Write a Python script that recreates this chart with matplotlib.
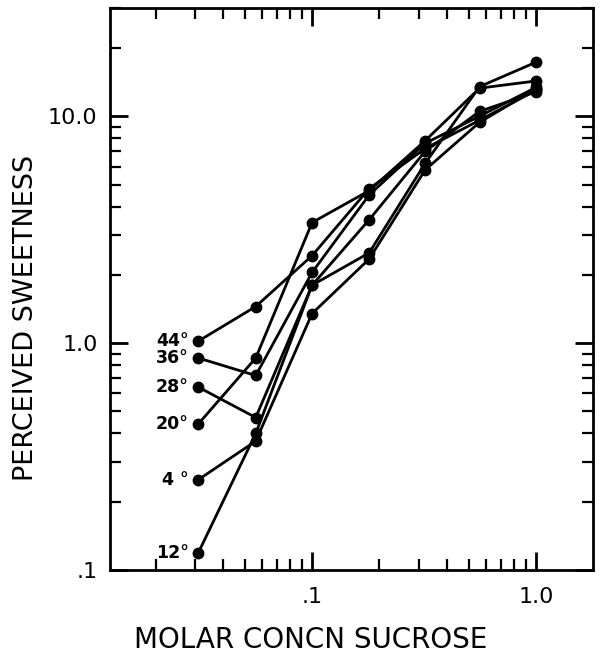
import matplotlib
matplotlib.use("Agg")
import matplotlib.pyplot as plt
from matplotlib.ticker import LogLocator, FixedLocator, FixedFormatter, NullFormatter

# Data (molar concentration of sucrose vs perceived sweetness)
conc = [0.031, 0.056, 0.1, 0.18, 0.32, 0.56, 1.0]
series_labels = ["44°", "36°", "28°", "20°", "4 °", "12°"]
s44 = [1.02, 1.45, 2.43, 4.8, 7.2, 9.6, 13.0]
s36 = [0.86, 0.72, 2.05, 4.5, 7.6, 10.0, 13.4]
s28 = [0.64, 0.47, 1.8, 3.5, 7.0, 10.5, 12.8]
s20 = [0.44, 0.86, 3.4, 4.7, 7.8, 13.3, 14.3]
s4 = [0.25, 0.37, 1.35, 2.35, 5.8, 9.4, 13.2]
s12 = [0.119, 0.40, 1.8, 2.5, 6.2, 13.5, 17.3]
series = [s44, s36, s28, s20, s4, s12]

x_ticks = [0.1, 1.0]
x_ticklabels = [".1", "1.0"]
y_ticks = [0.1, 1.0, 10.0]
y_ticklabels = [".1", "1.0", "10.0"]

fig = plt.figure(figsize=(6.02, 6.69), dpi=100)
ax = fig.add_axes([110 / 602, 1 - 570 / 669, (593 - 110) / 602, (570 - 8) / 669])
ax.set_xscale("log")
ax.set_yscale("log")

for lab, ys in zip(series_labels, series):
    ax.plot(conc, ys, color="black", lw=2.0, marker="o", ms=7.5, mfc="black", mec="black")
    ax.annotate(lab, xy=(conc[0], ys[0]), xytext=(-7, 0), textcoords="offset points",
                ha="right", va="center", fontsize=12.5, fontweight="bold",
                family="DejaVu Sans")

ax.set_xlim(0.0125, 1.8)
ax.set_ylim(0.1, 30)

ax.xaxis.set_major_locator(FixedLocator(x_ticks))
ax.xaxis.set_major_formatter(FixedFormatter(x_ticklabels))
ax.yaxis.set_major_locator(FixedLocator(y_ticks))
ax.yaxis.set_major_formatter(FixedFormatter(y_ticklabels))
ax.xaxis.set_minor_locator(LogLocator(base=10, subs=range(2, 10)))
ax.yaxis.set_minor_locator(LogLocator(base=10, subs=range(2, 10)))
ax.xaxis.set_minor_formatter(NullFormatter())
ax.yaxis.set_minor_formatter(NullFormatter())

ax.tick_params(which="both", direction="in", top=True, right=True, color="black")
ax.tick_params(which="major", length=13, width=2.0, labelsize=16)
ax.tick_params(axis="x", which="major", pad=12.5)
ax.tick_params(axis="y", which="major", pad=9)
ax.tick_params(which="minor", length=8, width=1.6)
for sp in ax.spines.values():
    sp.set_linewidth(2.0)

ax.set_xlabel("MOLAR CONCN SUCROSE", fontsize=20, va="center", ha="center")
ax.xaxis.set_label_coords((311 - 110) / 483, (570 - 640) / 562)
ax.set_ylabel("PERCEIVED SWEETNESS", fontsize=19.5, va="center", ha="center")
ax.yaxis.set_label_coords((26 - 110) / 483, (570 - 318) / 562)

fig.savefig("out.png", dpi=100)
